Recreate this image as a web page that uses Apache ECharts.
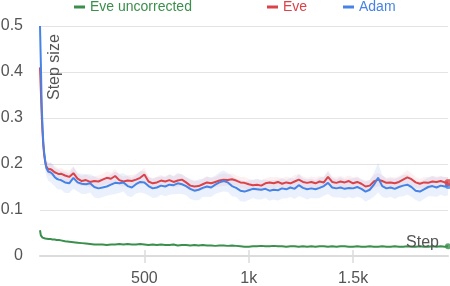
<!DOCTYPE html>
<html><head><meta charset="utf-8">
<script src="https://cdn.jsdelivr.net/npm/echarts@6/dist/echarts.min.js"></script>
<style>html,body{margin:0;padding:0;background:#fff}#c{width:450px;height:286px}</style>
</head><body><div id="c"></div><script>
const steps=[0,4,8,12,16,20,25,30,40,50,60,70,80,90,
100,120,140,160,180,200,220,240,260,280,
300,320,340,360,380,400,420,440,460,480,
500,520,540,560,580,600,620,640,660,680,
700,720,740,760,780,800,820,840,860,880,
900,920,940,960,980,1000,1020,1040,1060,1080,
1100,1120,1140,1160,1180,1200,1220,1240,1260,1280,
1300,1320,1340,1360,1380,1400,1420,1440,1460,1480,
1500,1520,1540,1560,1580,1600,1620,1640,1660,1680,
1700,1720,1740,1760,1780,1800,1820,1840,1860,1880,
1900,1920,1940,1955];
const eve=[0.41,0.36,0.31,0.27,0.24,0.22,0.205,0.195,0.188,0.189,0.186,0.182,0.18,0.178,
0.179,0.175,0.172,0.18,0.168,0.163,0.165,0.161,0.163,0.162,
0.166,0.17,0.168,0.174,0.165,0.162,0.164,0.163,0.166,0.17,
0.177,0.162,0.158,0.16,0.164,0.162,0.165,0.161,0.164,0.166,
0.16,0.153,0.151,0.152,0.156,0.16,0.158,0.161,0.164,0.166,
0.165,0.167,0.164,0.16,0.159,0.156,0.154,0.155,0.153,0.158,
0.16,0.158,0.161,0.157,0.16,0.158,0.162,0.166,0.161,0.159,
0.161,0.158,0.162,0.16,0.172,0.161,0.159,0.162,0.16,0.163,
0.158,0.161,0.157,0.151,0.153,0.162,0.166,0.163,0.159,0.16,
0.158,0.161,0.166,0.171,0.167,0.16,0.157,0.16,0.159,0.162,
0.161,0.163,0.16,0.16];
const adam=[0.50,0.42,0.33,0.28,0.245,0.225,0.205,0.192,0.183,0.182,0.178,0.172,0.168,0.166,
0.165,0.16,0.158,0.17,0.16,0.157,0.156,0.158,0.15,0.147,
0.149,0.151,0.155,0.159,0.158,0.16,0.152,0.149,0.156,0.161,
0.16,0.152,0.147,0.149,0.153,0.151,0.155,0.154,0.158,0.156,
0.152,0.146,0.142,0.144,0.148,0.151,0.149,0.155,0.16,0.163,
0.16,0.152,0.148,0.142,0.14,0.143,0.146,0.145,0.144,0.146,
0.142,0.144,0.143,0.147,0.145,0.149,0.146,0.154,0.148,0.145,
0.147,0.145,0.148,0.152,0.159,0.149,0.147,0.149,0.146,0.148,
0.147,0.15,0.146,0.14,0.144,0.155,0.17,0.152,0.147,0.149,
0.146,0.15,0.153,0.155,0.15,0.142,0.14,0.145,0.15,0.152,
0.149,0.153,0.151,0.152];
const eveUncorrected=[0.056,0.045,0.041,0.04,0.039,0.039,0.038,0.038,0.037,0.037,0.036,0.036,0.035,0.035,
0.034,0.032,0.031,0.03,0.029,0.028,0.027,0.026,0.025,0.025,
0.025,0.024,0.025,0.025,0.026,0.025,0.026,0.025,0.025,0.026,
0.025,0.024,0.025,0.024,0.025,0.024,0.024,0.025,0.023,0.024,
0.024,0.023,0.024,0.023,0.024,0.023,0.023,0.022,0.023,0.023,
0.022,0.023,0.022,0.021,0.02,0.02,0.021,0.021,0.022,0.021,
0.021,0.022,0.021,0.021,0.02,0.021,0.021,0.02,0.021,0.02,
0.021,0.02,0.021,0.021,0.02,0.021,0.02,0.021,0.021,0.02,
0.02,0.021,0.02,0.02,0.021,0.02,0.02,0.021,0.02,0.02,
0.021,0.02,0.02,0.021,0.02,0.02,0.021,0.02,0.02,0.021,
0.02,0.021,0.02,0.021];
const eveBand=[0.004,0.008,0.01,0.01,0.01,0.012,0.012,0.012,0.013,0.014,0.013,0.014,0.013,0.012,
0.013,0.012,0.014,0.015,0.012,0.011,0.013,0.012,0.011,0.013,
0.012,0.014,0.013,0.015,0.012,0.011,0.012,0.013,0.012,0.014,
0.015,0.012,0.011,0.013,0.012,0.011,0.013,0.012,0.014,0.012,
0.011,0.012,0.013,0.011,0.012,0.013,0.012,0.011,0.013,0.014,
0.012,0.013,0.011,0.012,0.013,0.012,0.011,0.013,0.012,0.011,
0.012,0.013,0.011,0.012,0.013,0.012,0.014,0.013,0.012,0.011,
0.012,0.013,0.012,0.011,0.015,0.012,0.013,0.012,0.011,0.012,
0.013,0.012,0.011,0.013,0.012,0.014,0.015,0.012,0.011,0.013,
0.012,0.013,0.014,0.016,0.013,0.012,0.011,0.012,0.013,0.012,
0.012,0.011,0.012,0.012];
const adamBand=[0.004,0.01,0.014,0.015,0.016,0.017,0.018,0.018,0.02,0.021,0.022,0.02,0.021,0.022,
0.02,0.023,0.021,0.024,0.02,0.022,0.021,0.02,0.023,0.022,
0.021,0.02,0.022,0.024,0.021,0.02,0.022,0.021,0.02,0.023,
0.024,0.02,0.021,0.022,0.02,0.021,0.022,0.02,0.023,0.021,
0.02,0.022,0.021,0.023,0.02,0.022,0.021,0.02,0.022,0.023,
0.021,0.022,0.02,0.023,0.022,0.021,0.02,0.022,0.021,0.02,
0.022,0.021,0.023,0.022,0.02,0.021,0.022,0.024,0.021,0.022,
0.021,0.02,0.022,0.021,0.024,0.021,0.02,0.022,0.021,0.02,
0.022,0.021,0.02,0.022,0.021,0.026,0.032,0.024,0.021,0.02,
0.022,0.021,0.023,0.022,0.021,0.02,0.022,0.021,0.02,0.022,
0.021,0.02,0.021,0.02];
const xTicks=[500,1000,1500];
const xTickLabels=['500','1k','1.5k'];

const GREEN='#3a8f4c', RED='#db4349', BLUE='#4683e6';
const FONT='"Liberation Sans", Arial, sans-serif';
const pairs=(ys)=>steps.map((s,i)=>[s,ys[i]]);
const last=(ys)=>[[steps[steps.length-1],ys[ys.length-1]]];
function bandSeries(name,ys,w,fill){
  return {name:name,type:'custom',silent:true,clip:true,data:[0],
    renderItem:function(params,api){
      const pts=[];
      for(let i=0;i<steps.length;i++) pts.push(api.coord([steps[i],ys[i]+w[i]]));
      for(let i=steps.length-1;i>=0;i--) pts.push(api.coord([steps[i],ys[i]-w[i]]));
      return {type:'polygon',shape:{points:pts},style:{fill:fill}};
    }};
}

const chart=echarts.init(document.getElementById('c'),null,{renderer:'canvas'});
const legendBase={top:-5,itemWidth:11,itemHeight:3,icon:'rect',itemGap:5};
chart.setOption({
  animation:false,
  textStyle:{fontFamily:FONT},
  grid:{left:40,right:2,top:26,bottom:30,containLabel:false,outerBoundsMode:'none'},
  legend:[
    Object.assign({},legendBase,{left:69,data:['Eve uncorrected'],textStyle:{fontSize:14,fontFamily:FONT,color:GREEN}}),
    Object.assign({},legendBase,{left:262,data:['Eve'],textStyle:{fontSize:14,fontFamily:FONT,color:RED}}),
    Object.assign({},legendBase,{left:338,data:['Adam'],textStyle:{fontSize:14,fontFamily:FONT,color:BLUE}})
  ],
  xAxis:[{
    type:'value',min:0,max:1955,position:'bottom',
    axisLine:{lineStyle:{color:'#dcdcdc',width:2}},
    axisTick:{show:true,customValues:xTicks,length:7,inside:false,lineStyle:{color:'#dcdcdc',width:1.5}},
    axisLabel:{customValues:xTicks,formatter:(v)=>xTickLabels[xTicks.indexOf(v)]||'',color:'#555',fontSize:16,margin:15},
    splitLine:{show:false}
  },{
    type:'value',min:0,max:1955,position:'bottom',
    axisLine:{show:false},
    axisTick:{show:true,customValues:xTicks,length:6,inside:true,lineStyle:{color:'#dcdcdc',width:1.5}},
    axisLabel:{show:false},splitLine:{show:false}
  }],
  yAxis:{
    type:'value',min:0,max:0.5,interval:0.1,
    axisLine:{show:false},axisTick:{show:false},
    axisLabel:{color:'#555',fontSize:16,margin:17,formatter:(v)=>String(Math.round(v*10)/10)},
    splitLine:{lineStyle:{color:'#e4e4e4',width:1}}
  },
  graphic:[
    {type:'text',x:55,y:100,rotation:Math.PI/2,z:100,style:{text:'Step size',fill:'#555',fontSize:16,fontFamily:FONT,textAlign:'left',textVerticalAlign:'middle'}},
    {type:'text',x:439,y:243,z:100,style:{text:'Step',fill:'#555',fontSize:16,fontFamily:FONT,textAlign:'right',textVerticalAlign:'middle'}}
  ],
  series:[
    bandSeries('adamBand',adam,adamBand,'rgba(70,131,230,0.11)'),
    bandSeries('eveBand',eve,eveBand,'rgba(219,67,73,0.08)'),
    {name:'Eve uncorrected',type:'line',data:pairs(eveUncorrected),symbol:'none',color:GREEN,lineStyle:{width:2}},
    {name:'Eve',type:'line',data:pairs(eve),symbol:'none',color:RED,lineStyle:{width:2}},
    {name:'Adam',type:'line',data:pairs(adam),symbol:'none',color:BLUE,lineStyle:{width:2}},
    {name:'endG',type:'scatter',data:last(eveUncorrected),symbolSize:6,itemStyle:{color:GREEN}},
    {name:'endB',type:'scatter',data:last(adam),symbolSize:6,itemStyle:{color:BLUE}},
    {name:'endR',type:'scatter',data:last(eve),symbolSize:7,itemStyle:{color:RED}}
  ]
});
</script></body></html>
